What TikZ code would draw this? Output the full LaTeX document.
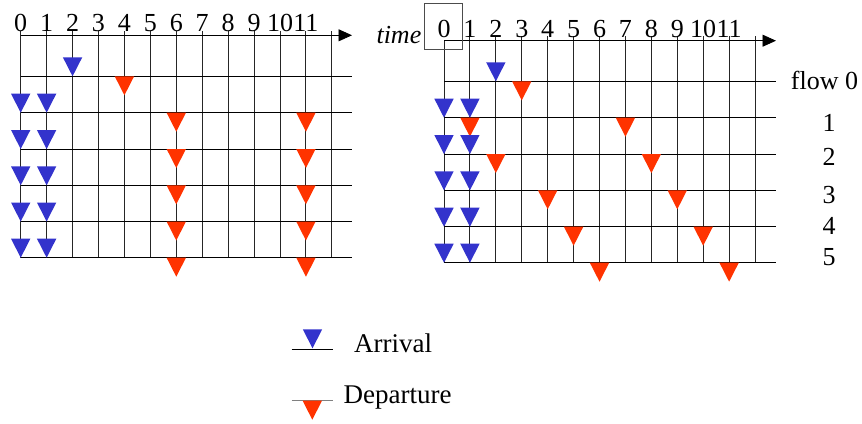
\documentclass[tikz,border=0pt]{standalone}
\usepackage{fontspec}
\setmainfont{Liberation Serif}
\usetikzlibrary{arrows.meta}
\definecolor{arrblue}{HTML}{3333CC}
\definecolor{depred}{HTML}{FF3300}
\begin{document}
\begin{tikzpicture}[x=1pt,y=-1pt,
  gridline/.style={black!85,line width=0.9pt},
  axisline/.style={black,line width=0.9pt,-{Triangle[length=13.5pt,width=12pt]}},
  lbl/.style={font=\fontsize{26}{30}\selectfont,inner sep=0pt,anchor=base},
  flowlbl/.style={font=\fontsize{26}{30}\selectfont,inner sep=0pt,anchor=base},
  leglbl/.style={font=\fontsize{27}{31}\selectfont,inner sep=0pt,anchor=base west},
  arrv/.pic={\fill[arrblue] (-9.7,-19) -- (9.7,-19) -- (0,0) -- cycle;},
  depv/.pic={\fill[depred] (-9.7,0) -- (9.7,0) -- (0,19) -- cycle;}]
\useasboundingbox (0,0) rectangle (862,423);

% ---------------- left diagram ----------------
\def\LX{20.7}\def\LD{25.93}
\foreach \i in {0,...,12}
  \draw[gridline] (\LX+\i*\LD,31) -- (\LX+\i*\LD,257.7);
\foreach \y in {76.3,112.7,149,185.3,221.5,257.7}
  \draw[gridline,black] (\LX,\y) -- (352,\y);
\coordinate (lstart) at (\LX,35.3);
\coordinate (lend) at (352,35.3);
\draw[axisline] (lstart) -- (lend);
\foreach \i in {0,...,11}
  \node[lbl] (lt\i) at (\LX+\i*\LD,31.7) {\i};

\pic at (\LX+2*\LD,76.3) {arrv};
\pic at (\LX+4*\LD,76.3) {depv};
\foreach \y in {112.7,149,185.3,221.5,257.7}{
  \pic at (\LX,\y) {arrv};
  \pic at (\LX+\LD,\y) {arrv};
  \pic at (\LX+6*\LD,\y) {depv};
  \pic at (\LX+11*\LD,\y) {depv};
}

% ---------------- right diagram ----------------
\def\RX{444}\def\RD{25.92}
\draw[gridline] (\RX,40.7) -- (\RX,262.7);
\foreach \i in {1,...,12}
  \draw[gridline] (\RX+\i*\RD,36) -- (\RX+\i*\RD,262.7);
\foreach \y in {81.3,117.7,154,190.3,226.7,262.7}
  \draw[gridline,black] (\RX,\y) -- (776,\y);
\coordinate (rstart) at (\RX,40.7);
\coordinate (rend) at (776,40.7);
\draw[axisline] (rstart) -- (rend);
\foreach \i in {0,...,11}
  \node[lbl] (rt\i) at (\RX+\i*\RD,37.5) {\i};
\node[lbl,anchor=base east,font=\fontsize{26}{30}\selectfont\itshape] (time) at (421.5,43) {time};
\node[draw=black!70,line width=1pt,minimum width=38.4pt,minimum height=46pt,inner sep=0pt] (zbox) at (443.5,26.3) {};

\node[flowlbl,anchor=base east] (f0) at (858.3,89) {flow 0};
\node[flowlbl] (f1) at (829,131) {1};
\node[flowlbl] (f2) at (829,165.7) {2};
\node[flowlbl] (f3) at (829,203.3) {3};
\node[flowlbl] (f4) at (829,234) {4};
\node[flowlbl] (f5) at (829,265) {5};

\pic at (\RX+2*\RD,81.3) {arrv};
\pic at (\RX+3*\RD,81.3) {depv};
\foreach \y/\a/\b in {117.7/1/7,154/2/8,190.3/4/9,226.7/5/10,262.7/6/11}{
  \pic at (\RX,\y) {arrv};
  \pic at (\RX+\RD,\y) {arrv};
  \pic at (\RX+\a*\RD,\y) {depv};
  \pic at (\RX+\b*\RD,\y) {depv};
}

% ---------------- legend ----------------
\coordinate (la1) at (291.7,349.3);
\coordinate (la2) at (333.3,349.3);
\draw[black,line width=0.9pt] (la1) -- (la2);
\pic at (312.5,348.3) {arrv};
\node[leglbl] (arrtxt) at (354,352) {Arrival};
\coordinate (ld1) at (291.7,400.7);
\coordinate (ld2) at (333.3,400.7);
\draw[black!50,line width=1pt] (ld1) -- (ld2);
\pic at (312.3,400.7) {depv};
\node[leglbl] (deptxt) at (343.5,403.3) {Departure};
\end{tikzpicture}
\end{document}
